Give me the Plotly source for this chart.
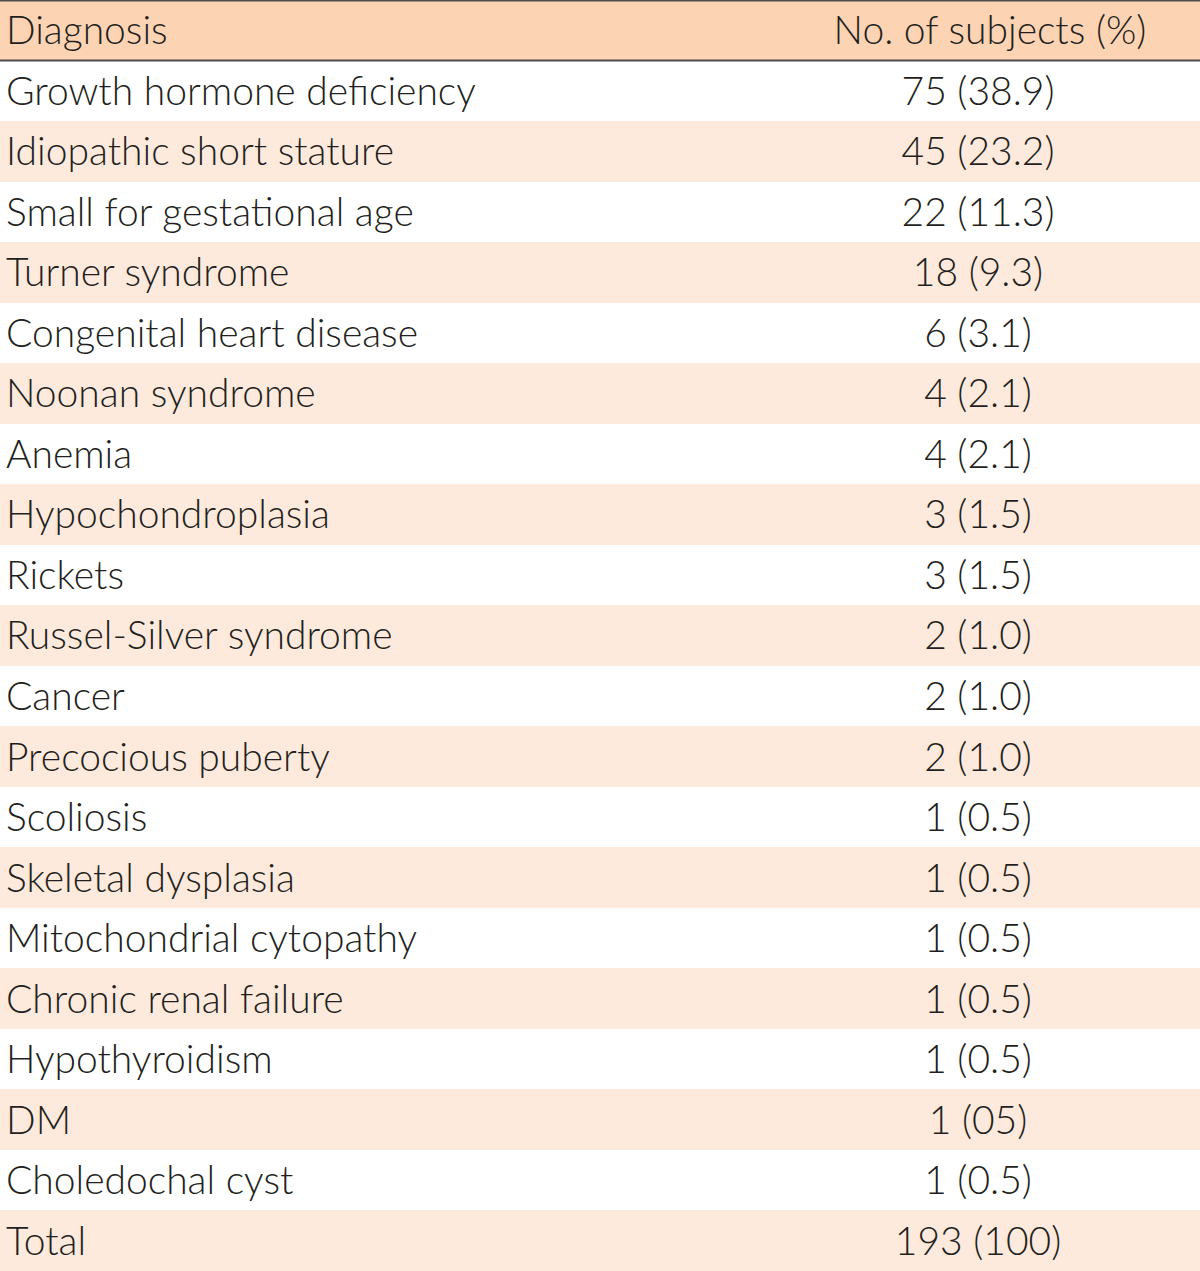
import plotly.graph_objects as go

diagnoses = [
    "Growth hormone deficiency", "Idiopathic short stature", "Small for gestational age",
    "Turner syndrome", "Congenital heart disease", "Noonan syndrome", "Anemia",
    "Hypochondroplasia", "Rickets", "Russel-Silver syndrome", "Cancer",
    "Precocious puberty", "Scoliosis", "Skeletal dysplasia", "Mitochondrial cytopathy",
    "Chronic renal failure", "Hypothyroidism", "DM", "Choledochal cyst", "Total",
]
subjects = [
    "75 (38.9)", "45 (23.2)", "22 (11.3)", "18 (9.3)", "6 (3.1)", "4 (2.1)", "4 (2.1)",
    "3 (1.5)", "3 (1.5)", "2 (1.0)", "2 (1.0)", "2 (1.0)", "1 (0.5)", "1 (0.5)",
    "1 (0.5)", "1 (0.5)", "1 (0.5)", "1 (05)", "1 (0.5)", "193 (100)",
]
headers = ["Diagnosis", "No. of subjects (%)"]

HEADER_BG = "#FCD4B3"
STRIPE = "#FDEADC"
WHITE = "#FFFFFF"
TEXT = "#231F20"
LINE = "#4D4D4D"
FONT = "Lato"
FSIZE = 39
W, H = 1200, 1271
TEXT_DROP = 0.07  # fraction of a row to lower text for optical centring

n_rows = len(diagnoses) + 1  # header + data rows
rows = list(range(n_rows))
fills = [HEADER_BG] + [WHITE if i % 2 == 0 else STRIPE for i in range(len(diagnoses))]
text_y = [r + TEXT_DROP for r in rows]

fig = go.Figure()

# row backgrounds
fig.add_trace(go.Bar(
    y=rows, x=[W] * n_rows, base=0, orientation="h", width=1,
    marker=dict(color=fills, line=dict(width=0)),
    hoverinfo="skip", showlegend=False,
))

font = dict(family=FONT, size=FSIZE, color=TEXT, weight=300)

# first column (left aligned)
fig.add_trace(go.Scatter(
    x=[6] * n_rows, y=text_y, mode="text",
    text=[headers[0]] + diagnoses, textposition="middle right",
    textfont=font, hoverinfo="skip", showlegend=False, cliponaxis=False,
))
# second column header
fig.add_trace(go.Scatter(
    x=[990], y=text_y[:1], mode="text", text=[headers[1]], textposition="middle center",
    textfont=font, hoverinfo="skip", showlegend=False, cliponaxis=False,
))
# second column values
fig.add_trace(go.Scatter(
    x=[978] * len(subjects), y=text_y[1:], mode="text", text=subjects,
    textposition="middle center", textfont=font,
    hoverinfo="skip", showlegend=False, cliponaxis=False,
))

# rules: top of table and under the header
for yy, lw in [(-0.5, 3), (0.5, 2)]:
    fig.add_shape(type="line", xref="paper", yref="y", x0=0, x1=1, y0=yy, y1=yy,
                  line=dict(color=LINE, width=lw), layer="above")

fig.update_xaxes(range=[0, W], visible=False, fixedrange=True)
fig.update_yaxes(range=[n_rows - 0.5, -0.5], visible=False, fixedrange=True)
fig.update_layout(
    width=W, height=H,
    margin=dict(l=0, r=0, t=0, b=0, pad=0),
    paper_bgcolor="white", plot_bgcolor="white",
    bargap=0,
)

fig.write_html("out.html", config={"displayModeBar": False},
               post_script="document.body.style.margin='0';")
